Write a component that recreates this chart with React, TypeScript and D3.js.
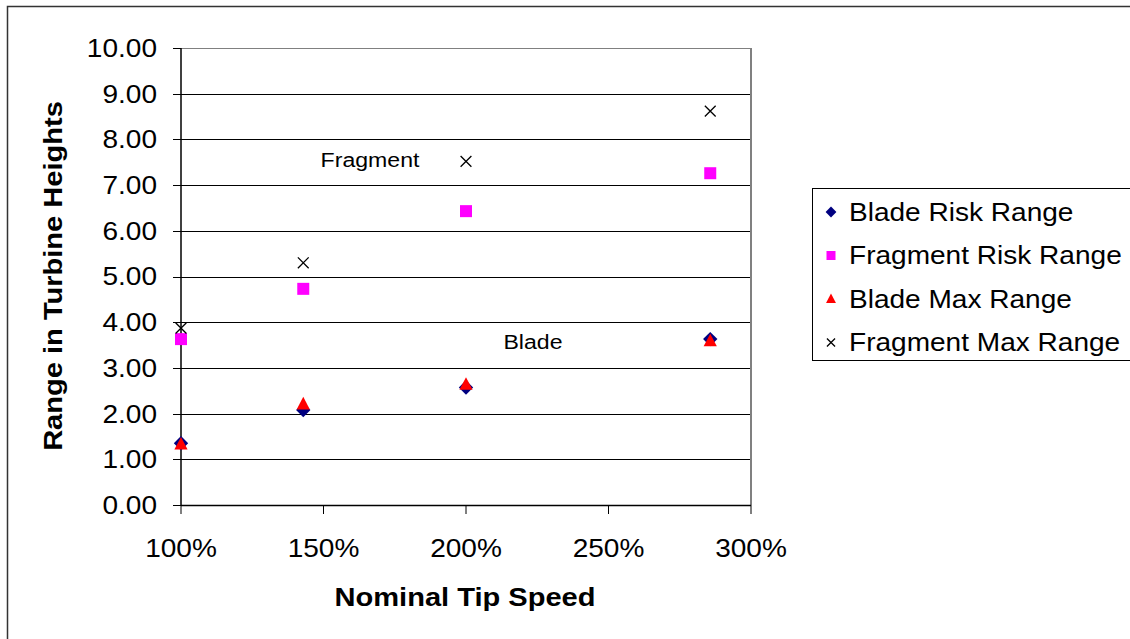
import * as d3 from "d3";

const tipSpeed = [1.0, 1.429, 2.0, 2.857];
const bladeRisk = [1.35, 2.08, 2.57, 3.63];
const fragmentRisk = [3.63, 4.73, 6.43, 7.26];
const bladeMax = [1.33, 2.21, 2.64, 3.59];
const fragmentMax = [3.87, 5.3, 7.52, 8.62];

const yTicks = [0, 1, 2, 3, 4, 5, 6, 7, 8, 9, 10];
const xTicks = [1, 1.5, 2, 2.5, 3];

const seriesNames = [
  "Blade Risk Range",
  "Fragment Risk Range",
  "Blade Max Range",
  "Fragment Max Range",
];

const W = 1130;
const H = 639;
const font = "'Liberation Sans', Arial, sans-serif";

// text in the source is slightly wider than Arial, so stretch it a bit
function T({
  x,
  y,
  rotate = 0,
  sx = 1.1,
  anchor = "start",
  size = 25.5,
  bold = false,
  children,
}: {
  x: number;
  y: number;
  rotate?: number;
  sx?: number;
  anchor?: string;
  size?: number;
  bold?: boolean;
  children: any;
}) {
  return (
    <text
      transform={`translate(${x},${y}) rotate(${rotate}) scale(${sx},1)`}
      dy="0.35em"
      textAnchor={anchor}
      fontSize={size}
      fontWeight={bold ? "bold" : "normal"}
    >
      {children}
    </text>
  );
}

function Marker({ kind, x, y, s }: { kind: number; x: number; y: number; s: number }) {
  if (kind === 0) {
    return (
      <path
        d={`M${x},${y - s * 0.6}L${x + s * 0.6},${y}L${x},${y + s * 0.6}L${x - s * 0.6},${y}Z`}
        fill="#000080"
      />
    );
  }
  if (kind === 1) {
    return <rect x={x - s / 2} y={y - s / 2} width={s} height={s} fill="#ff00ff" />;
  }
  if (kind === 2) {
    return (
      <path
        d={`M${x},${y - s * 0.6}L${x + s * 0.55},${y + s * 0.45}L${x - s * 0.55},${y + s * 0.45}Z`}
        fill="#ff0000"
      />
    );
  }
  const h = s * 0.45;
  return (
    <path
      d={`M${x - h},${y - h}L${x + h},${y + h}M${x - h},${y + h}L${x + h},${y - h}`}
      stroke="#000"
      strokeWidth={1.3}
      fill="none"
    />
  );
}

export default function App() {
  const x = d3.scaleLinear().domain([1, 3]).range([181, 751]);
  const y = d3.scaleLinear().domain([0, 10]).range([505, 48]);
  const fmtY = d3.format(".2f");
  const fmtX = d3.format(".0%");
  const series = [bladeRisk, fragmentRisk, bladeMax, fragmentMax];
  // draw order: squares, x's, diamonds, triangles on top
  const order = [1, 3, 0, 2];

  return (
    <svg
      width={W}
      height={H}
      style={{ position: "absolute", left: 0, top: 0, background: "#fff" }}
      fontFamily={font}
    >
      <rect x={7.5} y={6.5} width={W} height={H} fill="#fff" stroke="#333" strokeWidth={1.5} />

      {/* gridlines */}
      {yTicks.map((t) => (
        <line
          key={"g" + t}
          x1={x(1)}
          x2={x(3)}
          y1={Math.round(y(t)) + 0.5}
          y2={Math.round(y(t)) + 0.5}
          stroke={t === 10 ? "#808080" : "#000"}
          strokeWidth={1}
        />
      ))}
      <line x1={x(3)} x2={x(3)} y1={y(10)} y2={y(0)} stroke="#808080" strokeWidth={2} />

      {/* y axis */}
      <line x1={x(1)} x2={x(1)} y1={y(10)} y2={y(0)} stroke="#000" strokeWidth={1.5} />
      {yTicks.map((t) => (
        <g key={"y" + t}>
          <line x1={x(1) - 8} x2={x(1)} y1={Math.round(y(t)) + 0.5} y2={Math.round(y(t)) + 0.5} stroke="#000" />
          <T x={157} y={y(t)} anchor="end">
            {fmtY(t)}
          </T>
        </g>
      ))}

      {/* x axis */}
      <line x1={x(1)} x2={x(3)} y1={y(0) + 0.5} y2={y(0) + 0.5} stroke="#000" strokeWidth={1.5} />
      {xTicks.map((t) => (
        <g key={"x" + t}>
          <line x1={x(t)} x2={x(t)} y1={y(0)} y2={y(0) + 9} stroke="#000" />
          <T x={x(t)} y={548} anchor="middle">
            {fmtX(t)}
          </T>
        </g>
      ))}

      <T x={465} y={597} anchor="middle" bold sx={1.14}>
        Nominal Tip Speed
      </T>
      <T x={53} y={276} rotate={-90} anchor="middle" bold sx={1.14}>
        Range in Turbine Heights
      </T>

      <T x={370} y={160} anchor="middle" size={21}>
        Fragment
      </T>
      <T x={533} y={342} anchor="middle" size={21}>
        Blade
      </T>

      {/* markers */}
      {order.map((si) =>
        series[si].map((v, i) => (
          <Marker key={si + "-" + i} kind={si} x={x(tipSpeed[i])} y={y(v)} s={12} />
        ))
      )}

      {/* legend */}
      <rect x={812.5} y={188.5} width={330} height={172} fill="#fff" stroke="#000" strokeWidth={1} />
      {seriesNames.map((name, i) => {
        const ly = 212 + i * 43.5;
        return (
          <g key={name}>
            <Marker kind={i} x={831} y={ly} s={9} />
            <T x={849} y={ly}>
              {name}
            </T>
          </g>
        );
      })}
    </svg>
  );
}
